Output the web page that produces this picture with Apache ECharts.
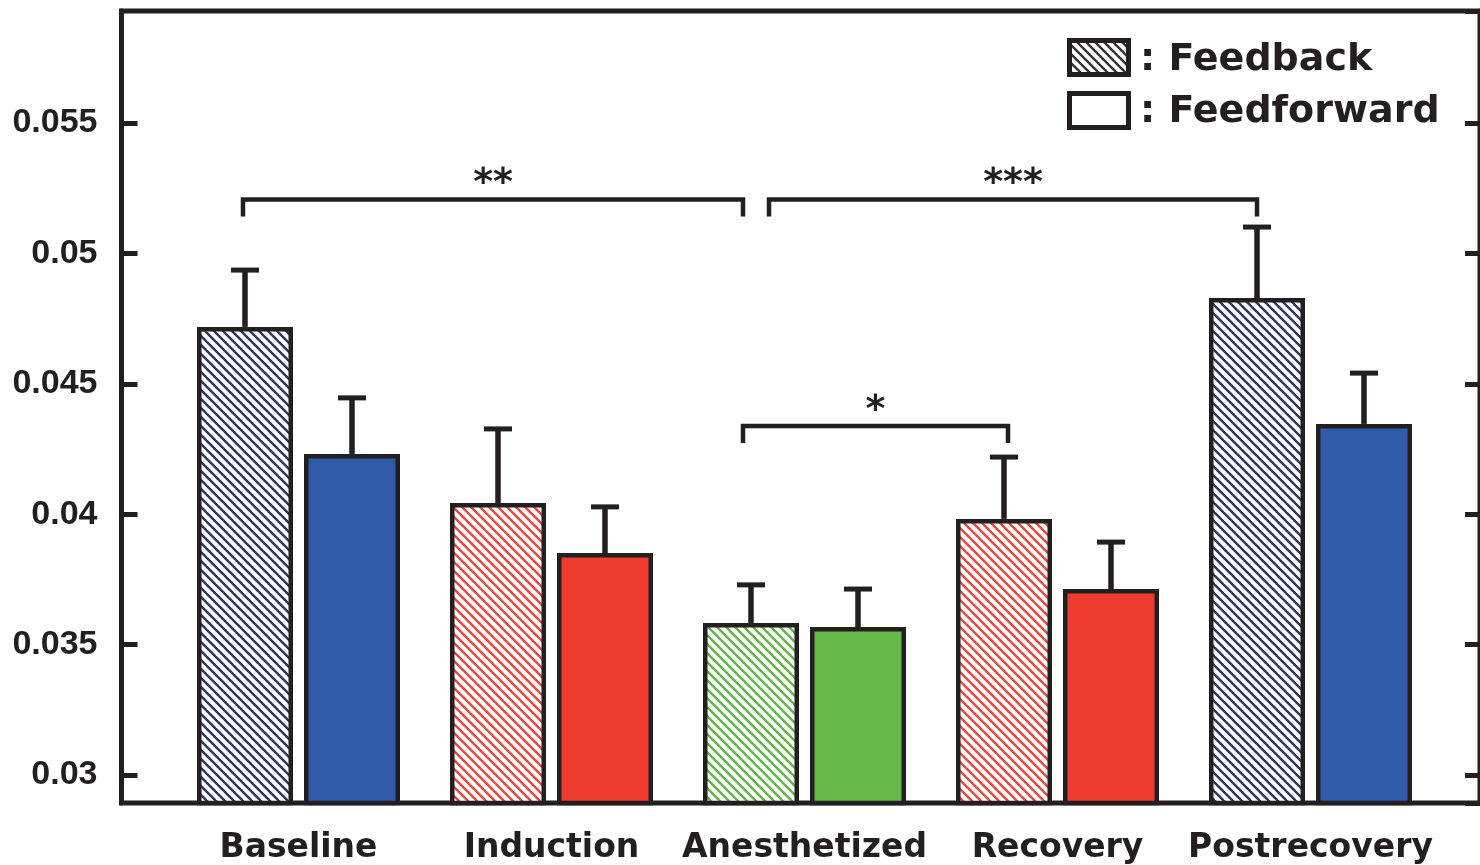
<!DOCTYPE html>
<html>
<head>
<meta charset="utf-8">
<script src="https://cdn.jsdelivr.net/npm/echarts@6/dist/echarts.min.js"></script>
<style>
  html, body { margin: 0; padding: 0; background: #fff; }
  #chart { width: 1480px; height: 865px; }
</style>
</head>
<body>
<div id="chart"></div>
<script>
// data
var categories = ['Baseline', 'Induction', 'Anesthetized', 'Recovery', 'Postrecovery'];
var feedback = [0.04718, 0.04043, 0.03583, 0.03982, 0.04829];
var feedbackErr = [0.00218, 0.00284, 0.00146, 0.00237, 0.00272];
var feedforward = [0.04231, 0.03851, 0.03567, 0.03713, 0.04346];
var feedforwardErr = [0.00215, 0.00177, 0.00146, 0.00180, 0.00195];
// significance brackets: from group, to group, height, stars
var bracketFrom = [0, 2, 2];
var bracketTo = [2, 4, 3];
var bracketLevel = [0.05207, 0.05207, 0.04338];
var bracketLabel = ['**', '***', '*'];

// styles
var INK = '#231F20';
var solidColors = ['#2F5BA8', '#EE3B30', '#63B847', '#EE3B30', '#2F5BA8'];
var hatchColors = ['#2B3462', '#E8473E', '#5FB446', '#E8473E', '#2B3462'];
var Y_MIN = 0.028926, Y_MAX = 0.059294;
var BAR_W = 96, GAP_PX = 11;
var HALF = (BAR_W + GAP_PX) / 2;
var BRACKET_NUDGE = [[-2, -8], [18, 0], [-8, 4]];

function hatch(color) {
  var P = 9;
  var c = document.createElement('canvas');
  c.width = P; c.height = P;
  var g = c.getContext('2d');
  g.fillStyle = '#fff';
  g.fillRect(0, 0, P, P);
  g.strokeStyle = color;
  g.lineWidth = 2.4;
  for (var k = -1; k <= 1; k++) {
    g.beginPath();
    g.moveTo(k * P - 1, -1);
    g.lineTo(k * P + P + 1, P + 1);
    g.stroke();
  }
  return { image: c, repeat: 'repeat' };
}

var chart = echarts.init(document.getElementById('chart'), null, { renderer: 'canvas' });

function errorItem(offset) {
  return function (params, api) {
    var base = api.coord([api.value(0), api.value(1)]);
    var top = api.coord([api.value(0), api.value(1) + api.value(2)]);
    var x = base[0] + offset;
    return {
      type: 'group',
      children: [
        { type: 'line', shape: { x1: x, y1: base[1], x2: x, y2: top[1] },
          style: { stroke: INK, lineWidth: 5.5 } },
        { type: 'line', shape: { x1: x - 14, y1: top[1], x2: x + 14, y2: top[1] },
          style: { stroke: INK, lineWidth: 5 } }
      ]
    };
  };
}

function bracketItem(params, api) {
  var i = api.value(3);
  var y = api.coord([0, api.value(2)])[1];
  var x1 = api.coord([api.value(0), api.value(2)])[0] - HALF + BRACKET_NUDGE[i][0];
  var x2 = api.coord([api.value(1), api.value(2)])[0] - HALF + BRACKET_NUDGE[i][1];
  return {
    type: 'group',
    children: [
      { type: 'polyline',
        shape: { points: [[x1, y + 17], [x1, y], [x2, y], [x2, y + 17]] },
        style: { stroke: INK, lineWidth: 4.5, fill: null } },
      { type: 'text',
        style: { text: bracketLabel[i], x: (x1 + x2) / 2, y: y - 15,
          align: 'center', verticalAlign: 'middle',
          font: 'bold 38px "DejaVu Sans"', fill: INK } }
    ]
  };
}

var option = {
  animation: false,
  backgroundColor: '#fff',
  grid: [
    { left: 121.5, right: -7, top: 11, bottom: 62, show: true,
      borderColor: INK, borderWidth: 5, backgroundColor: 'transparent' },
    { left: 172, right: 43, top: 11, bottom: 62 }
  ],
  xAxis: [
    { type: 'value', gridIndex: 0, min: 0, max: 1, show: false },
    { type: 'category', gridIndex: 1, data: categories,
      axisLine: { show: false }, axisTick: { show: false },
      axisLabel: { interval: 0, margin: 29, color: INK, fontFamily: 'DejaVu Sans',
        fontWeight: 'bold', fontSize: 33 } }
  ],
  yAxis: [
    { type: 'value', gridIndex: 0, min: Y_MIN, max: Y_MAX, splitNumber: 6,
      splitLine: { show: false },
      axisLine: { show: true, lineStyle: { color: INK, width: 5 } },
      axisTick: { show: true, inside: true, length: 16, lineStyle: { color: INK, width: 5 } },
      axisLabel: { showMinLabel: false, showMaxLabel: false, margin: 24, color: INK,
        fontFamily: 'Liberation Sans', fontWeight: 'bold', fontSize: 34,
        formatter: function (v) { return String(+v.toFixed(3)); } } },
    { type: 'value', gridIndex: 0, position: 'right', min: Y_MIN, max: Y_MAX, splitNumber: 6,
      splitLine: { show: false },
      axisLine: { show: true, lineStyle: { color: INK, width: 5 } },
      axisTick: { show: true, inside: true, length: 15, lineStyle: { color: INK, width: 5 } },
      axisLabel: { show: false } },
    { type: 'value', gridIndex: 1, min: Y_MIN, max: Y_MAX, show: false }
  ],
  series: [
    { name: 'Feedback', type: 'bar', xAxisIndex: 1, yAxisIndex: 2,
      barWidth: BAR_W, barGap: (GAP_PX / BAR_W * 100) + '%',
      itemStyle: { borderColor: INK, borderWidth: 4.5 },
      data: feedback.map(function (v, i) {
        return { value: v, itemStyle: { color: hatch(hatchColors[i]) } };
      }), z: 3 },
    { name: 'Feedforward', type: 'bar', xAxisIndex: 1, yAxisIndex: 2,
      barWidth: BAR_W,
      itemStyle: { borderColor: INK, borderWidth: 4.5 },
      data: feedforward.map(function (v, i) {
        return { value: v, itemStyle: { color: solidColors[i] } };
      }), z: 3 },
    { type: 'custom', xAxisIndex: 1, yAxisIndex: 2, renderItem: errorItem(-HALF), z: 4,
      data: feedback.map(function (v, i) { return [i, v, feedbackErr[i]]; }) },
    { type: 'custom', xAxisIndex: 1, yAxisIndex: 2, renderItem: errorItem(HALF), z: 4,
      data: feedforward.map(function (v, i) { return [i, v, feedforwardErr[i]]; }) },
    { type: 'custom', xAxisIndex: 1, yAxisIndex: 2, renderItem: bracketItem, z: 5,
      encode: { x: [0, 1], y: 2 },
      data: bracketFrom.map(function (f, i) { return [f, bracketTo[i], bracketLevel[i], i]; }) }
  ],
  graphic: [
    { type: 'rect', shape: { x: 1069.5, y: 40.5, width: 59, height: 34 },
      style: { fill: hatch('#333333'), stroke: INK, lineWidth: 5 } },
    { type: 'rect', shape: { x: 1069.5, y: 93.5, width: 59, height: 34 },
      style: { fill: '#fff', stroke: INK, lineWidth: 5 } },
    { type: 'text', x: 1140, y: 60,
      style: { text: ': Feedback', font: 'bold 38px "DejaVu Sans"', fill: INK, verticalAlign: 'middle' } },
    { type: 'text', x: 1140, y: 112,
      style: { text: ': Feedforward', font: 'bold 38px "DejaVu Sans"', fill: INK, verticalAlign: 'middle' } }
  ]
};
chart.setOption(option);
</script>
</body>
</html>
